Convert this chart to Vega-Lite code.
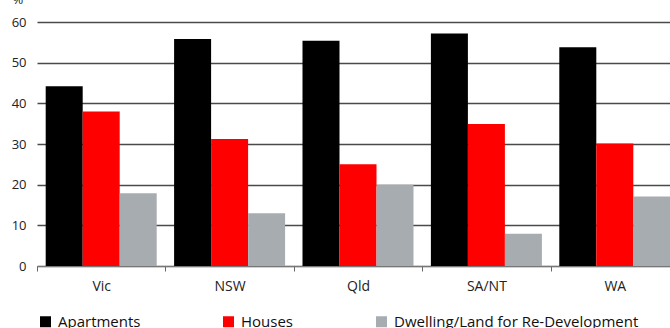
{
  "$schema": "https://vega.github.io/schema/vega-lite/v6.json",
  "autosize": {"type": "none"},
  "padding": {"left": 37, "top": 22, "right": 0, "bottom": 62},
  "width": 633,
  "height": 244,
  "config": {
    "font": "Open Sans",
    "view": {"stroke": null},
    "axis": {"labelColor": "#222222", "titleColor": "#222222"}
  },
  "data": {
    "values": [
      {"region": "Vic", "type": "Apartments", "value": 44.2},
      {"region": "Vic", "type": "Houses", "value": 38},
      {"region": "Vic", "type": "Dwelling/Land for Re-Development", "value": 17.9},
      {"region": "NSW", "type": "Apartments", "value": 55.8},
      {"region": "NSW", "type": "Houses", "value": 31.2},
      {"region": "NSW", "type": "Dwelling/Land for Re-Development", "value": 13},
      {"region": "Qld", "type": "Apartments", "value": 55.4},
      {"region": "Qld", "type": "Houses", "value": 25},
      {"region": "Qld", "type": "Dwelling/Land for Re-Development", "value": 20},
      {"region": "SA/NT", "type": "Apartments", "value": 57.2},
      {"region": "SA/NT", "type": "Houses", "value": 34.9},
      {"region": "SA/NT", "type": "Dwelling/Land for Re-Development", "value": 7.9},
      {"region": "WA", "type": "Apartments", "value": 53.8},
      {"region": "WA", "type": "Houses", "value": 30.1},
      {"region": "WA", "type": "Dwelling/Land for Re-Development", "value": 17.1}
    ]
  },
  "mark": {"type": "bar"},
  "encoding": {
    "x": {
      "field": "region",
      "type": "nominal",
      "sort": ["Vic", "NSW", "Qld", "SA/NT", "WA"],
      "scale": {"range": [0, 642], "paddingInner": 0, "paddingOuter": 0},
      "axis": {
        "title": null,
        "labelAngle": 0,
        "labelFontSize": 14,
        "labelPadding": 8,
        "tickBand": "extent",
        "tickSize": 5,
        "tickColor": "#666666",
        "domainColor": "#777777",
        "domainWidth": 1.2,
        "grid": false
      }
    },
    "xOffset": {
      "field": "type",
      "sort": ["Apartments", "Houses", "Dwelling/Land for Re-Development"],
      "scale": {"paddingInner": 0, "paddingOuter": 0.235}
    },
    "y": {
      "field": "value",
      "type": "quantitative",
      "scale": {"domain": [0, 60]},
      "axis": {
        "values": [0, 10, 20, 30, 40, 50, 60],
        "title": "%",
        "titleAngle": 0,
        "titleAlign": "left",
        "titleBaseline": "alphabetic",
        "titleX": -25,
        "titleY": -19,
        "titleFontSize": 13,
        "titleFontWeight": "normal",
        "labelFontSize": 13,
        "labelPadding": 11,
        "ticks": false,
        "tickSize": 0,
        "domain": false,
        "grid": true,
        "gridColor": "#4a4a4a",
        "gridWidth": 1.3
      }
    },
    "color": {
      "field": "type",
      "type": "nominal",
      "sort": ["Apartments", "Houses", "Dwelling/Land for Re-Development"],
      "scale": {
        "domain": ["Apartments", "Houses", "Dwelling/Land for Re-Development"],
        "range": ["#000000", "#ff0000", "#a7acb1"]
      },
      "legend": {
        "title": null,
        "orient": "none",
        "legendX": 1,
        "legendY": 292,
        "direction": "horizontal",
        "symbolType": "square",
        "symbolSize": 121,
        "symbolStrokeWidth": 0,
        "labelFontSize": 15,
        "labelOffset": 5,
        "labelColor": "#111111",
        "columnPadding": 80,
        "labelLimit": 400
      }
    }
  }
}
